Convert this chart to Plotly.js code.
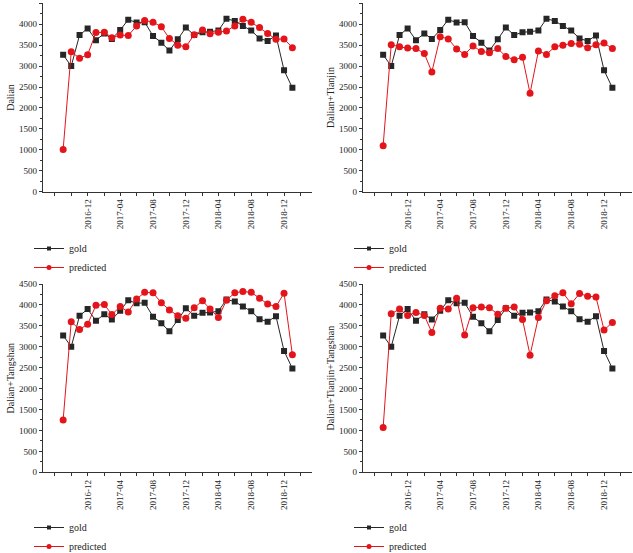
<!DOCTYPE html>
<html>
<head>
<meta charset="utf-8">
<script src="https://cdn.plot.ly/plotly-3.0.1.min.js"></script>
<style>html,body{margin:0;padding:0;background:#fff;}#chart{width:633px;height:553px;}</style>
</head>
<body>
<div id="chart"></div>
<script>
const months = ['2016-09-01','2016-10-01','2016-11-01','2016-12-01','2017-01-01','2017-02-01','2017-03-01','2017-04-01','2017-05-01','2017-06-01','2017-07-01','2017-08-01','2017-09-01','2017-10-01','2017-11-01','2017-12-01','2018-01-01','2018-02-01','2018-03-01','2018-04-01','2018-05-01','2018-06-01','2018-07-01','2018-08-01','2018-09-01','2018-10-01','2018-11-01','2018-12-01','2019-01-01'];

const gold = [3270,3000,3740,3900,3620,3780,3650,3860,4110,4040,4050,3720,3560,3370,3640,3920,3740,3810,3820,3850,4130,4080,3960,3850,3660,3600,3730,2900,2480];

const predDalian = [1010,3340,3190,3270,3800,3810,3680,3740,3730,3960,4090,4050,3940,3660,3500,3460,3750,3860,3770,3810,3840,3960,4120,4050,3920,3780,3640,3650,3440];
const predDalianTianjin = [1100,3510,3460,3430,3420,3300,2860,3700,3650,3410,3280,3480,3350,3320,3420,3230,3150,3210,2350,3360,3280,3460,3500,3540,3520,3440,3510,3550,3420];
const predDalianTangshan = [1250,3600,3410,3540,3990,4010,3770,3960,3830,4140,4300,4290,4050,3880,3740,3680,3930,4100,3900,3700,4110,4290,4320,4300,4160,4020,3960,4280,2810];
const predAll = [1070,3790,3900,3750,3820,3750,3340,3920,3900,4160,3280,3930,3950,3930,3780,3920,3950,3650,2800,3700,4100,4220,4290,4030,4270,4210,4190,3400,3580];

const panelTitles = ['Dalian','Dalian+Tianjin','Dalian+Tangshan','Dalian+Tianjin+Tangshan'];
const predSeries = [predDalian, predDalianTianjin, predDalianTangshan, predAll];
const seriesNames = ['gold','predicted'];

const xTickVals = ['2016-08-01','2016-10-01','2016-12-01','2017-02-01','2017-04-01','2017-06-01','2017-08-01','2017-10-01','2017-12-01','2018-02-01','2018-04-01','2018-06-01','2018-08-01','2018-10-01','2018-12-01','2019-02-01'];
const xTickText = ['','','2016-12','','2017-04','','2017-08','','2017-12','','2018-04','','2018-08','','2018-12',''];

const W = 633, H = 553;
const FONT = 'Liberation Serif, Times New Roman, serif';
const goldColor = '#262626';
const predColor = '#e3151b';

const panels = [
  {x0:42.7, x1:312.3, y0:3.3, y1:191.7, leg:{x:29, y:234}},
  {x0:362.7, x1:632.3, y0:3.3, y1:191.7, leg:{x:349, y:234}},
  {x0:42.7, x1:312.3, y0:284, y1:472.3, leg:{x:29, y:513}},
  {x0:362.7, x1:632.3, y0:284, y1:472.3, leg:{x:349, y:513}}
];

const traces = [];
const layout = {
  width: W, height: H,
  margin: {l:0, r:0, t:0, b:0, autoexpand: false},
  paper_bgcolor: '#fff', plot_bgcolor: '#fff',
  font: {family: FONT, size: 9, color: '#222'},
  showlegend: true
};

panels.forEach((p, i) => {
  const n = i === 0 ? '' : String(i + 1);
  const legName = 'legend' + n;
  traces.push({
    x: months, y: gold, name: seriesNames[0], type: 'scatter', mode: 'lines+markers',
    xaxis: 'x' + n, yaxis: 'y' + n, showlegend: false,
    line: {color: goldColor, width: 1},
    marker: {symbol: 'square', size: 6, color: goldColor}
  });
  traces.push({
    x: months, y: predSeries[i], name: seriesNames[1], type: 'scatter', mode: 'lines+markers',
    xaxis: 'x' + n, yaxis: 'y' + n, showlegend: false,
    line: {color: predColor, width: 1},
    marker: {symbol: 'circle', size: 7, color: predColor}
  });
  // legend entries (smaller symbols, as in the reference)
  traces.push({
    x: [null], y: [null], name: seriesNames[0], type: 'scatter', mode: 'lines+markers',
    xaxis: 'x' + n, yaxis: 'y' + n, legend: legName, hoverinfo: 'skip',
    line: {color: goldColor, width: 1},
    marker: {symbol: 'square', size: 4, color: goldColor}
  });
  traces.push({
    x: [null], y: [null], name: seriesNames[1], type: 'scatter', mode: 'lines+markers',
    xaxis: 'x' + n, yaxis: 'y' + n, legend: legName, hoverinfo: 'skip',
    line: {color: predColor, width: 1},
    marker: {symbol: 'circle', size: 5, color: predColor}
  });
  layout['xaxis' + n] = {
    domain: [p.x0 / W, p.x1 / W], anchor: 'y' + n,
    type: 'date', range: ['2016-06-17', '2019-03-16'],
    tickmode: 'array', tickvals: xTickVals, ticktext: xTickText,
    tickangle: -90, ticks: 'outside', ticklen: 3, tickwidth: 1, tickcolor: '#333',
    showline: true, linecolor: '#333', linewidth: 1,
    showgrid: false, zeroline: false,
    tickfont: {family: FONT, size: 9, color: '#222'}
  };
  layout['yaxis' + n] = {
    domain: [1 - p.y1 / H, 1 - p.y0 / H], anchor: 'x' + n,
    range: [0, 4500], dtick: 500, tick0: 0,
    ticks: 'outside', ticklen: 3, tickwidth: 1, tickcolor: '#333',
    minor: {dtick: 250, ticks: 'outside', ticklen: 2, tickcolor: '#333', showgrid: false},
    showline: true, linecolor: '#333', linewidth: 1,
    showgrid: false, zeroline: false,
    tickfont: {family: FONT, size: 9, color: '#222'},
    title: {text: panelTitles[i], font: {family: FONT, size: 10, color: '#222'}, standoff: 2}
  };
  layout[legName] = {
    x: p.leg.x / W, y: 1 - p.leg.y / H, xanchor: 'left', yanchor: 'top',
    xref: 'paper', yref: 'paper',
    bgcolor: 'rgba(0,0,0,0)', borderwidth: 0,
    font: {family: FONT, size: 10, color: '#222'},
    tracegroupgap: 0, itemwidth: 30
  };
});

Plotly.newPlot('chart', traces, layout, {displayModeBar: false, staticPlot: true});
</script>
</body>
</html>
